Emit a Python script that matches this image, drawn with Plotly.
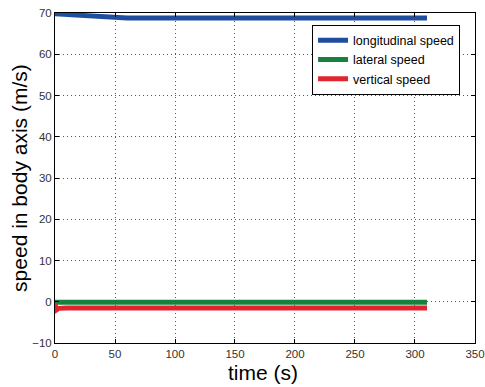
import plotly.graph_objects as go

# Body-axis speed components over the simulation time (s)
time_s = [0, 10, 20, 30, 40, 50, 60, 80, 100, 150, 200, 250, 310]
longitudinal = [69.8, 69.6, 69.4, 69.2, 69.0, 68.9, 68.8, 68.8, 68.8, 68.8, 68.8, 68.8, 68.8]
lateral = [-0.1, -0.1, -0.1, -0.1, -0.1, -0.1, -0.1, -0.1, -0.1, -0.1, -0.1, -0.1, -0.1]
vertical_t = [0, 1, 3, 10, 50, 100, 150, 200, 250, 310]
vertical = [-0.5, -2.0, -1.6, -1.5, -1.5, -1.5, -1.5, -1.5, -1.5, -1.5]

x_ticks = [0, 50, 100, 150, 200, 250, 300, 350]
y_ticks = [-10, 0, 10, 20, 30, 40, 50, 60, 70]

FONT = "Liberation Sans, Arial"

fig = go.Figure()
fig.add_trace(go.Scatter(x=time_s, y=longitudinal, mode="lines",
                         name="longitudinal speed",
                         line=dict(color="#1f4e9e", width=5)))
fig.add_trace(go.Scatter(x=time_s, y=lateral, mode="lines",
                         name="lateral speed",
                         line=dict(color="#1a8040", width=5)))
fig.add_trace(go.Scatter(x=vertical_t, y=vertical, mode="lines",
                         name="vertical speed",
                         line=dict(color="#e0252f", width=5)))

axis_common = dict(
    showline=True, linecolor="black", linewidth=1, mirror="ticks",
    ticks="inside", ticklen=4, tickcolor="black",
    showgrid=True, gridcolor="#555555", griddash="1px,3px", gridwidth=1,
    zeroline=False, ticklabeloverflow="allow", automargin=False,
    tickfont=dict(family=FONT, size=11.5, color="#333333"),
)

fig.update_xaxes(range=[0, 350.01], tickvals=x_ticks, **axis_common)
fig.update_yaxes(range=[-10, 70.01], tickvals=y_ticks, **axis_common)

# Axis titles placed as annotations
fig.add_annotation(text="time (s)", xref="paper", yref="paper",
                   x=0.495, y=-0.088, xanchor="center", yanchor="middle",
                   showarrow=False, font=dict(family=FONT, size=21, color="black"))
fig.add_annotation(text="speed in body axis (m/s)", xref="paper", yref="paper",
                   x=-0.086, y=0.5, xanchor="center", yanchor="middle", textangle=-90,
                   showarrow=False, font=dict(family=FONT, size=21, color="black"))

fig.update_layout(
    width=485, height=387,
    margin=dict(l=55, r=10, t=13, b=44, autoexpand=False),
    paper_bgcolor="white", plot_bgcolor="white",
    showlegend=True,
    legend=dict(x=0.612, y=0.965, xanchor="left", yanchor="top",
                bgcolor="white", bordercolor="black", borderwidth=1,
                font=dict(family=FONT, size=12.5, color="black"),
                tracegroupgap=0),
)

fig.write_html("out.html")
